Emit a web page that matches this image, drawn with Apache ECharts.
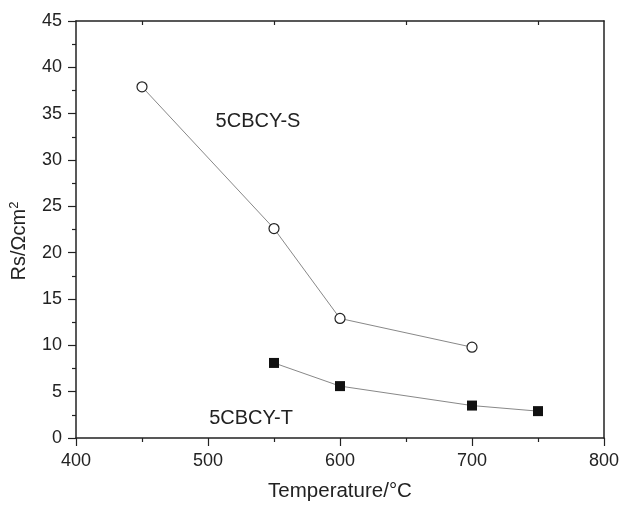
<!DOCTYPE html>
<html>
<head>
<meta charset="utf-8">
<script src="https://cdn.jsdelivr.net/npm/echarts@6/dist/echarts.min.js"></script>
<style>html,body{margin:0;padding:0;background:#fff}#c{width:623px;height:507px}</style>
</head>
<body>
<div id="c"></div>
<script>
var temperatureS = [450, 550, 600, 700];
var valuesS = [37.9, 22.6, 12.9, 9.8];
var temperatureT = [550, 600, 700, 750];
var valuesT = [8.1, 5.6, 3.5, 2.9];
var xTicks = [400, 500, 600, 700, 800];
var xTopSteps = [400, 450, 500, 550, 600, 650, 700, 750, 800];
var yTicks = [0, 5, 10, 15, 20, 25, 30, 35, 40, 45];
var labelS = '5CBCY-S';
var labelT = '5CBCY-T';
var xTitle = 'Temperature/°C';
var yTitleMain = 'Rs/Ωcm';
var yTitleSup = '2';

var FONT = 'Arial, "Liberation Sans", Helvetica, sans-serif';
var chart = echarts.init(document.getElementById('c'), null, {renderer: 'canvas'});
function pairs(xs, ys) { return xs.map(function (x, i) { return [x, ys[i]]; }); }
var axisColor = '#222';
chart.setOption({
  animation: false,
  backgroundColor: '#fff',
  grid: {left: 76, right: 19, top: 21, bottom: 61, containLabel: false},
  xAxis: [{
    type: 'value', position: 'bottom', min: xTicks[0], max: xTicks[xTicks.length - 1], interval: 100,
    name: xTitle, nameLocation: 'middle', nameGap: 43,
    nameTextStyle: {fontFamily: FONT, fontSize: 20.5, color: '#222'},
    axisLine: {show: true, lineStyle: {color: axisColor, width: 1.5}},
    axisTick: {show: true, inside: false, length: 8, lineStyle: {color: axisColor, width: 1.2}},
    minorTick: {show: true, splitNumber: 2, length: 4, lineStyle: {color: axisColor, width: 1.2}},
    axisLabel: {fontFamily: FONT, fontSize: 18, color: '#222', margin: 14},
    splitLine: {show: false}
  }, {
    type: 'category', position: 'top', data: xTopSteps.map(String), boundaryGap: false,
    axisLine: {show: true, onZero: false, lineStyle: {color: axisColor, width: 1.5}},
    axisTick: {show: true, inside: true, length: 4, alignWithLabel: true,
      interval: function (idx) { return idx % 2 === 1; },
      lineStyle: {color: axisColor, width: 1.2}},
    axisLabel: {show: false},
    splitLine: {show: false}
  }],
  yAxis: [{
    type: 'value', position: 'left', min: yTicks[0], max: yTicks[yTicks.length - 1], interval: 5,
    axisLine: {show: true, lineStyle: {color: axisColor, width: 1.5}},
    axisTick: {show: true, inside: false, length: 8, lineStyle: {color: axisColor, width: 1.2}},
    minorTick: {show: true, splitNumber: 2, length: 4, lineStyle: {color: axisColor, width: 1.2}},
    axisLabel: {fontFamily: FONT, fontSize: 18, color: '#222', margin: 14},
    splitLine: {show: false}
  }, {
    type: 'value', position: 'right', min: yTicks[0], max: yTicks[yTicks.length - 1], interval: 5,
    axisLine: {show: true, onZero: false, lineStyle: {color: axisColor, width: 1.5}},
    axisTick: {show: false},
    axisLabel: {show: false},
    splitLine: {show: false}
  }],
  series: [{
    type: 'line', xAxisIndex: 0, yAxisIndex: 0, data: pairs(temperatureS, valuesS),
    symbol: 'circle', symbolSize: 10,
    itemStyle: {color: '#fff', borderColor: '#222', borderWidth: 1.2},
    lineStyle: {color: '#888', width: 1}
  }, {
    type: 'line', xAxisIndex: 0, yAxisIndex: 0, data: pairs(temperatureT, valuesT),
    symbol: 'rect', symbolSize: 10,
    itemStyle: {color: '#111', borderColor: '#111', borderWidth: 0},
    lineStyle: {color: '#888', width: 1}
  }],
  graphic: [
    {type: 'text', x: 258, y: 121, style: {text: labelS, fontFamily: FONT, fontSize: 20, fill: '#222', align: 'center', verticalAlign: 'middle'}},
    {type: 'text', x: 251, y: 418, style: {text: labelT, fontFamily: FONT, fontSize: 20, fill: '#222', align: 'center', verticalAlign: 'middle'}},
    {type: 'text', x: 19, y: 241, rotation: Math.PI / 2, style: {
      text: '{m|' + yTitleMain + '}{s|' + yTitleSup + '}',
      rich: {
        m: {fontFamily: FONT, fontSize: 20, fill: '#222', color: '#222'},
        s: {fontFamily: FONT, fontSize: 13, fill: '#222', color: '#222', padding: [0, 0, 10, 0]}
      },
      align: 'center', verticalAlign: 'middle'}}
  ]
});
</script>
</body>
</html>
